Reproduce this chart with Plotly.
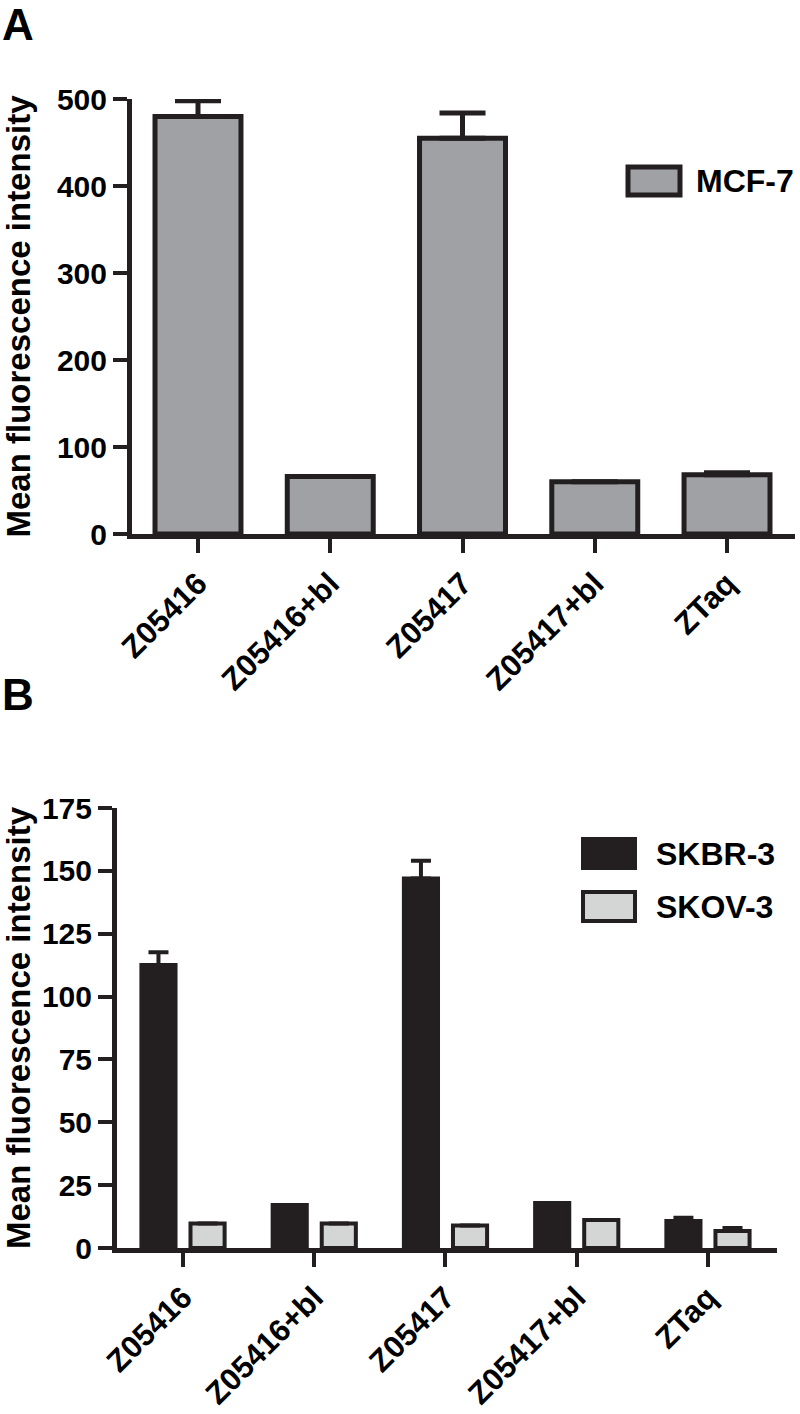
import plotly.graph_objects as go

# ---------------- data ----------------
categories = ["Z05416", "Z05416+bl", "Z05417", "Z05417+bl", "ZTaq"]

mcf7 = [480, 66, 455, 60, 68]
mcf7_err = [18, 0, 29, 0, 2.5]

skbr3 = [112.6, 17.1, 147, 17.9, 10.7]
skbr3_err = [5, 0, 7, 0, 1.3]
skov3 = [9.7, 9.7, 8.9, 11.1, 6.8]
skov3_err = [0, 0, 0, 0, 1.2]

top_ticks = [0, 100, 200, 300, 400, 500]
bot_ticks = [0, 25, 50, 75, 100, 125, 150, 175]

ytitle = "Mean fluorescence intensity"

# ---------------- style ----------------
INK = "#231f20"
GRAY = "#a0a1a4"
LIGHT = "#d4d6d5"
FONT = "Liberation Sans, Arial, Helvetica, sans-serif"
W, H = 800, 1414


def px(x):
    return x / W


def py(y):
    return 1 - y / H


fig = go.Figure()

fig.add_trace(go.Bar(
    x=categories, y=mcf7, name="MCF-7",
    marker=dict(color=GRAY, line=dict(color=INK, width=5)),
    error_y=dict(type="data", array=mcf7_err, arrayminus=[0] * len(mcf7_err),
                 symmetric=False, color=INK, thickness=5, width=23),
    xaxis="x", yaxis="y", showlegend=False,
))

fig.add_trace(go.Bar(
    x=categories, y=skbr3, name="SKBR-3",
    marker=dict(color=INK, line=dict(color=INK, width=4)),
    error_y=dict(type="data", array=skbr3_err, arrayminus=[0] * len(skbr3_err),
                 symmetric=False, color=INK, thickness=4, width=10),
    width=0.26, offset=-0.317,
    xaxis="x2", yaxis="y2", showlegend=False,
))
fig.add_trace(go.Bar(
    x=categories, y=skov3, name="SKOV-3",
    marker=dict(color=LIGHT, line=dict(color=INK, width=4)),
    error_y=dict(type="data", array=skov3_err, arrayminus=[0] * len(skov3_err),
                 symmetric=False, color=INK, thickness=4, width=10),
    width=0.26, offset=0.057,
    xaxis="x2", yaxis="y2", showlegend=False,
))

axis_common = dict(
    showline=True, linewidth=5, linecolor=INK,
    ticks="outside", ticklen=14, tickwidth=4, tickcolor=INK,
    showgrid=False, zeroline=False, automargin=False,
)

xtick_font = dict(family=FONT, size=31, color="#000000", weight="bold")
ytick_font = dict(family=FONT, size=30, color="#000000", weight="bold")
title_font = dict(family=FONT, size=33, color="#000000", weight="bold")

fig.update_layout(
    width=W, height=H,
    margin=dict(l=0, r=0, t=0, b=0, autoexpand=False),
    paper_bgcolor="white", plot_bgcolor="white",
    barmode="overlay",
    bargap=0.35,
    font=dict(family=FONT, color="#000000"),
    xaxis=dict(axis_common, domain=[px(132), px(795)], range=[-0.499, 4.514],
               anchor="y", tickangle=-45, tickfont=xtick_font),
    yaxis=dict(axis_common, domain=[py(534), py(99)], range=[0, 500],
               anchor="x", tickvals=top_ticks, tickfont=ytick_font,
               title=dict(text=ytitle, font=title_font, standoff=18)),
    xaxis2=dict(axis_common, domain=[px(117), px(777)], range=[-0.503, 4.526],
                anchor="y2", tickangle=-45, tickfont=xtick_font),
    yaxis2=dict(axis_common, domain=[py(1248), py(808)], range=[0, 175],
                anchor="x2", tickvals=bot_ticks, tickfont=ytick_font,
                title=dict(text=ytitle, font=title_font, standoff=18)),
)

# manual legends
legend_font = dict(family=FONT, size=32, color="#000000", weight="bold")
legend_items = [
    ("MCF-7", GRAY, 5, 628, 680, 167, 195, 694),
    ("SKBR-3", INK, 4, 583, 635, 839, 868, 654),
    ("SKOV-3", LIGHT, 4, 583, 635, 892, 921, 654),
]
for name, fill, lw, x0, x1, y0, y1, tx in legend_items:
    fig.add_shape(type="rect", xref="paper", yref="paper",
                  x0=px(x0), x1=px(x1), y0=py(y1), y1=py(y0),
                  fillcolor=fill, line=dict(color=INK, width=lw))
    fig.add_annotation(xref="paper", yref="paper", x=px(tx), y=py((y0 + y1) / 2),
                       text=name, showarrow=False, xanchor="left", yanchor="middle",
                       font=legend_font)

# panel letters
for letter, yc in (("A", 24), ("B", 694)):
    fig.add_annotation(xref="paper", yref="paper", x=0, y=py(yc), text=letter,
                       showarrow=False, xanchor="left", yanchor="middle",
                       font=dict(family=FONT, size=44, color="#000000", weight="bold"))

fig.write_html(
    "out.html",
    config={"displayModeBar": False},
    post_script="document.body.style.margin='0';document.body.style.overflow='hidden';"
                "document.documentElement.style.overflow='hidden';",
)
